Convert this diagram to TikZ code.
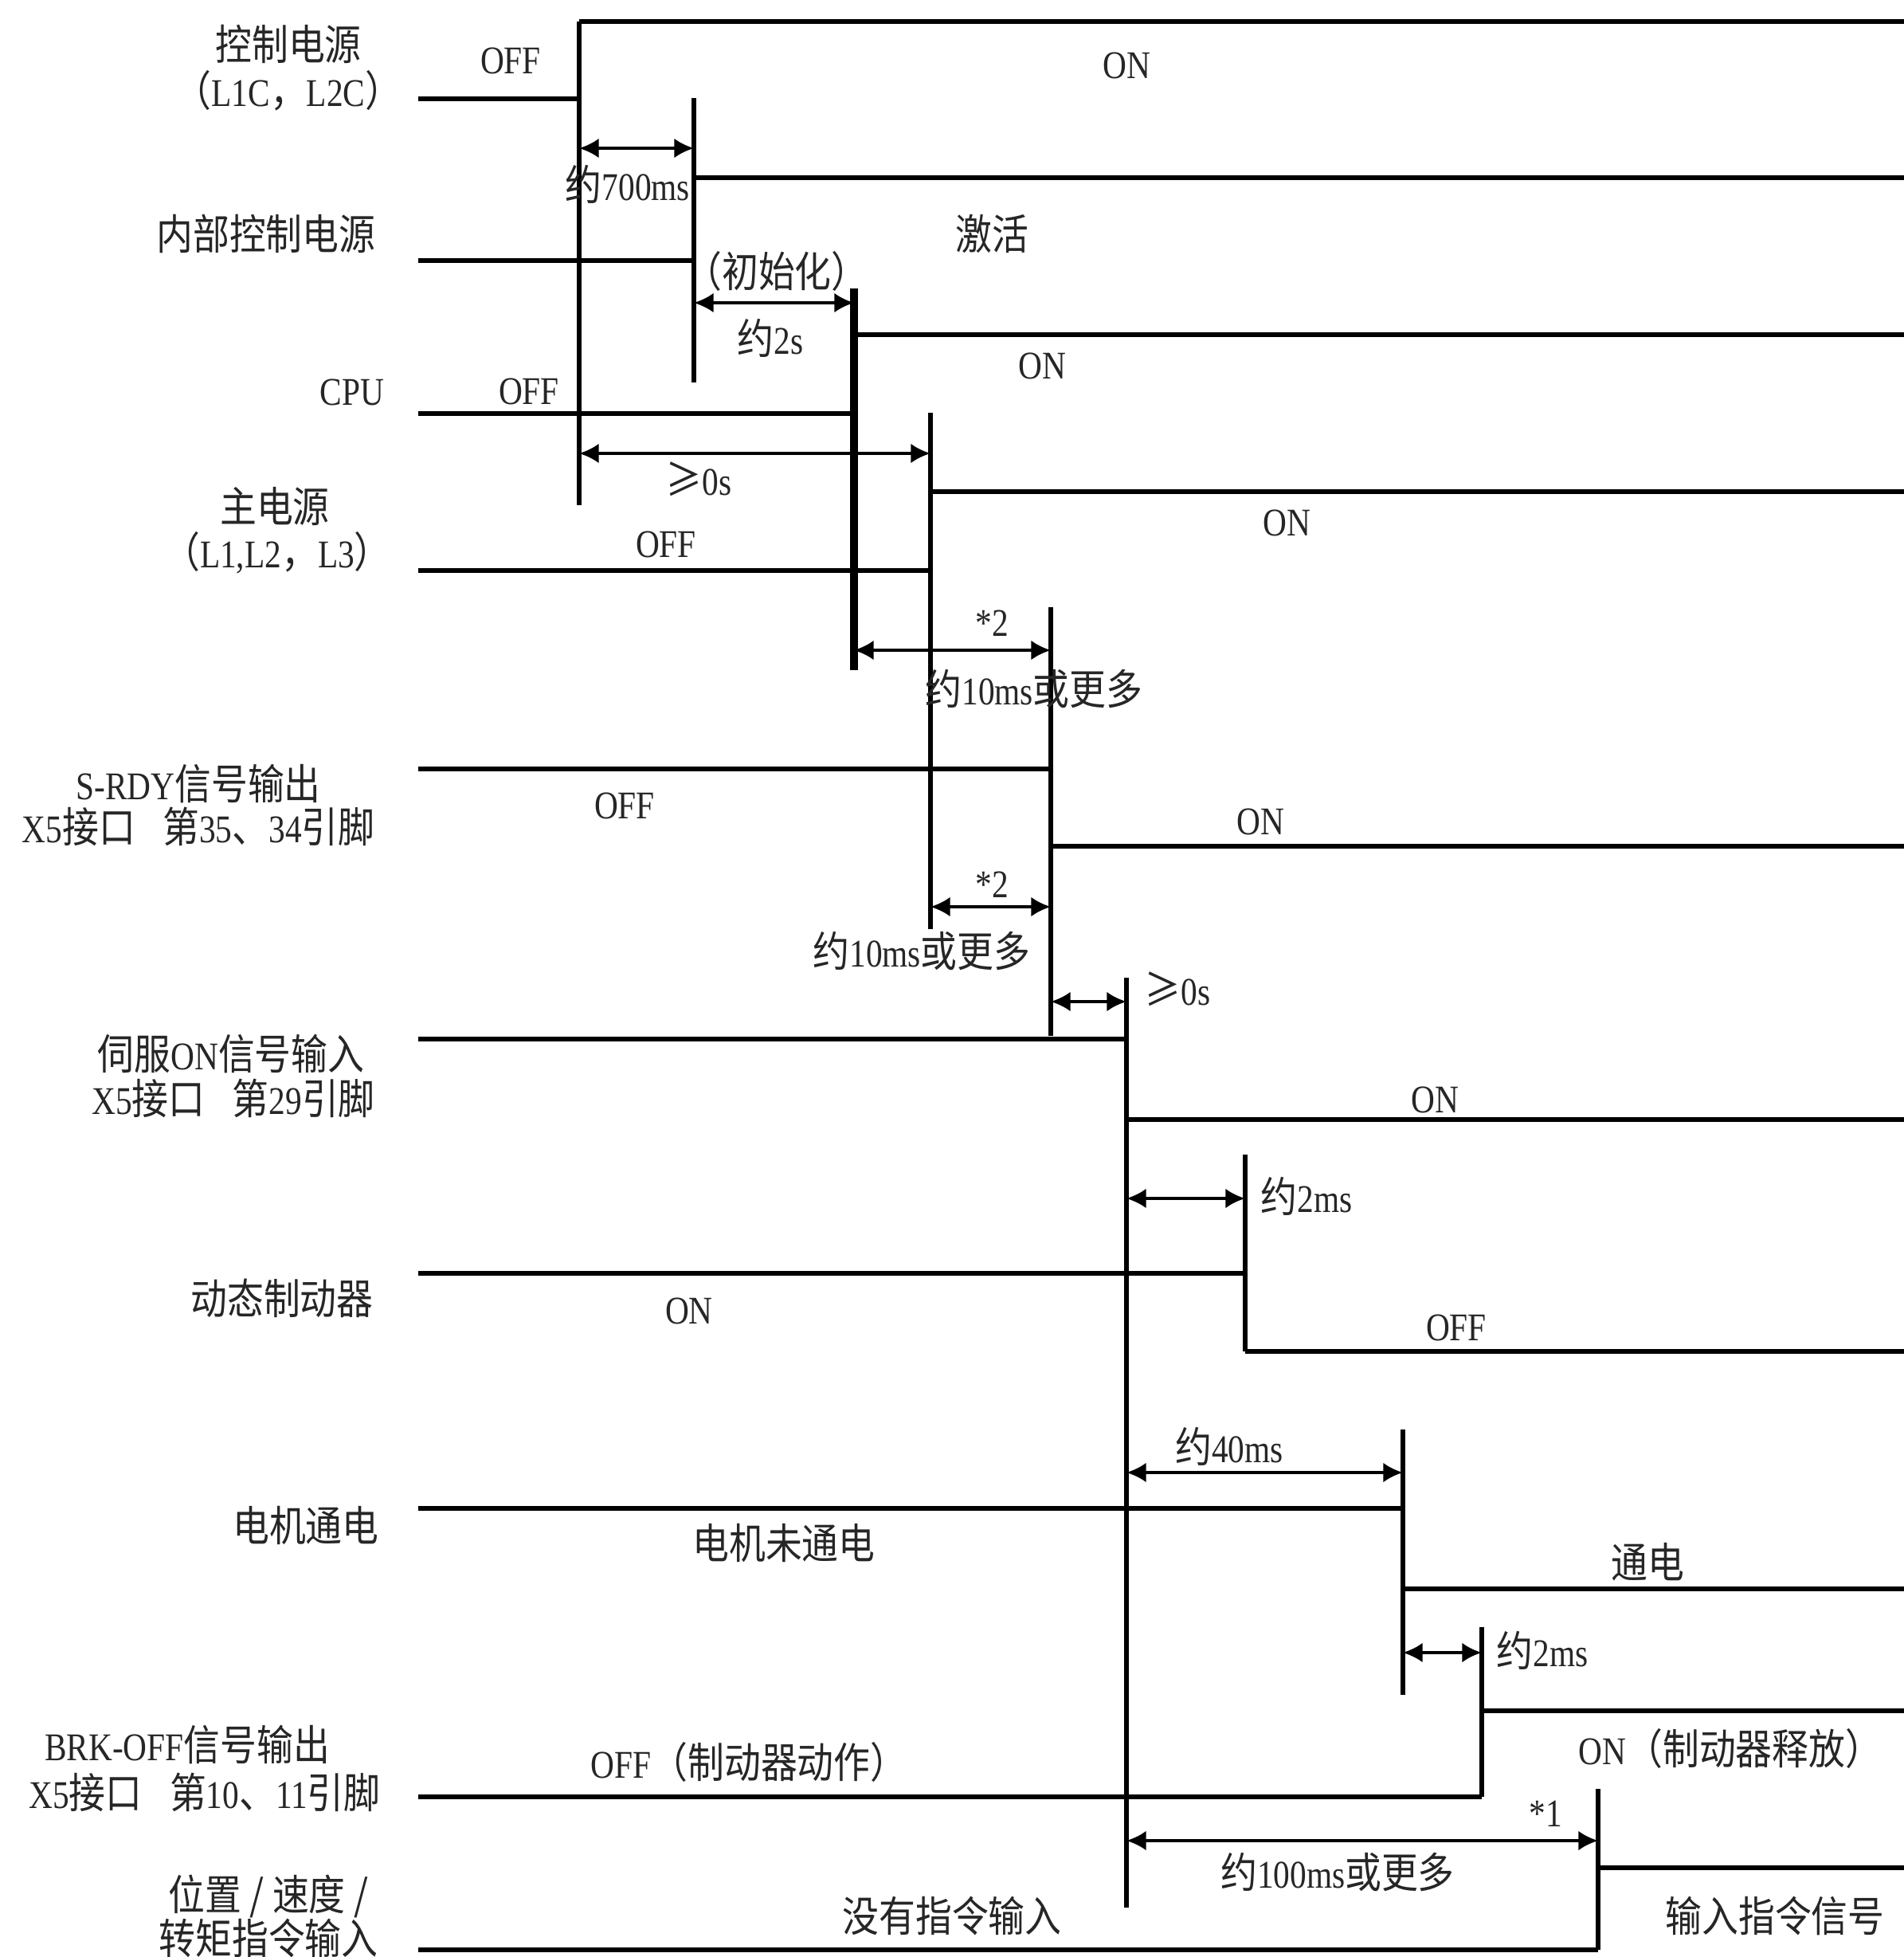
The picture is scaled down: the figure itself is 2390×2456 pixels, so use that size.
\documentclass[tikz,border=0pt]{standalone}
\usepackage{fontspec}
\setmainfont[FakeStretch=0.84]{Liberation Serif}
\newfontfamily\cjk[FakeStretch=0.87,Scale=1.07]{Noto Sans CJK SC}
\newcommand\zh[1]{{\cjk #1}}
\usetikzlibrary{arrows.meta}
\begin{document}
\begin{tikzpicture}[x=0.01cm,y=-0.01cm,
  lbl/.style={font=\fontsize{14}{16}\selectfont, inner sep=0pt, text=black!85},
  sig/.style={line width=1.6pt},
  vmark/.style={line width=1.9pt},
  vmarkthick/.style={line width=3pt},
  dim/.style={line width=1.1pt, {Latex[length=7pt,width=7pt]}-{Latex[length=7pt,width=7pt]}}]
\useasboundingbox (0,0) rectangle (2390,2456);
\fill[white] (0,0) rectangle (2390,2456);

% ---------------- signal names ----------------
\node[lbl] (l1a) at (362,55) {\zh{控制电源}};
\node[lbl] (l1b) at (362,114) {\zh{（}L1C\zh{，}L2C\zh{）}};
\node[lbl] (l2) at (334,293) {\zh{内部控制电源}};
\node[lbl] (l3) at (442,492) {CPU};
\node[lbl] (l4a) at (345,636) {\zh{主电源}};
\node[lbl] (l4b) at (348,694) {\zh{（}L1,L2\zh{，}L3\zh{）}};
\node[lbl] (l5a) at (249,983) {S-RDY\zh{信号输出}};
\node[lbl] (l5b) at (249,1037) {X5\zh{接口}\hspace{0.7em}\zh{第}35\zh{、}34\zh{引脚}};
\node[lbl] (l6a) at (290,1322) {\zh{伺服}ON\zh{信号输入}};
\node[lbl] (l6b) at (293,1378) {X5\zh{接口}\hspace{0.7em}\zh{第}29\zh{引脚}};
\node[lbl] (l7) at (354,1629) {\zh{动态制动器}};
\node[lbl] (l8) at (384,1914) {\zh{电机通电}};
\node[lbl] (l9a) at (235,2189) {BRK-OFF\zh{信号输出}};
\node[lbl] (l9b) at (257,2249) {X5\zh{接口}\hspace{0.7em}\zh{第}10\zh{、}11\zh{引脚}};
\node[lbl] (l10a) at (337,2380) {\zh{位置 / 速度 /}};
\node[lbl] (l10b) at (337,2432) {\zh{转矩指令输入}};

% ---------------- waveforms ----------------
\coordinate (r1a) at (525,124); \coordinate (r1b) at (727,124);
\coordinate (r1c) at (727,27);  \coordinate (r1d) at (2390,27);
\draw[sig] (r1a) -- (r1b); \draw[sig] (r1c) -- (r1d);
\coordinate (r2a) at (525,327); \coordinate (r2b) at (871,327);
\coordinate (r2c) at (871,223); \coordinate (r2d) at (2390,223);
\draw[sig] (r2a) -- (r2b); \draw[sig] (r2c) -- (r2d);
\coordinate (r3a) at (525,519); \coordinate (r3b) at (1072,519);
\coordinate (r3c) at (1072,420); \coordinate (r3d) at (2390,420);
\draw[sig] (r3a) -- (r3b); \draw[sig] (r3c) -- (r3d);
\coordinate (r4a) at (525,716); \coordinate (r4b) at (1168,716);
\coordinate (r4c) at (1168,617); \coordinate (r4d) at (2390,617);
\draw[sig] (r4a) -- (r4b); \draw[sig] (r4c) -- (r4d);
\coordinate (r5a) at (525,965); \coordinate (r5b) at (1319,965);
\coordinate (r5c) at (1319,1062); \coordinate (r5d) at (2390,1062);
\draw[sig] (r5a) -- (r5b); \draw[sig] (r5c) -- (r5d);
\coordinate (r6a) at (525,1304); \coordinate (r6b) at (1414,1304);
\coordinate (r6c) at (1414,1405); \coordinate (r6d) at (2390,1405);
\draw[sig] (r6a) -- (r6b); \draw[sig] (r6c) -- (r6d);
\coordinate (r7a) at (525,1598); \coordinate (r7b) at (1563,1598);
\coordinate (r7c) at (1563,1696); \coordinate (r7d) at (2390,1696);
\draw[sig] (r7a) -- (r7b); \draw[sig] (r7c) -- (r7d);
\coordinate (r8a) at (525,1893); \coordinate (r8b) at (1761,1893);
\coordinate (r8c) at (1761,1994); \coordinate (r8d) at (2390,1994);
\draw[sig] (r8a) -- (r8b); \draw[sig] (r8c) -- (r8d);
\coordinate (r9a) at (525,2255); \coordinate (r9b) at (1860,2255);
\coordinate (r9c) at (1860,2147); \coordinate (r9d) at (2390,2147);
\draw[sig] (r9a) -- (r9b); \draw[sig] (r9c) -- (r9d);
\coordinate (r10a) at (525,2447); \coordinate (r10b) at (2006,2447);
\coordinate (r10c) at (2006,2344); \coordinate (r10d) at (2390,2344);
\draw[sig] (r10a) -- (r10b); \draw[sig] (r10c) -- (r10d);

% ---------------- transition markers ----------------
\coordinate (v1t) at (727,27);   \coordinate (v1b) at (727,634);
\coordinate (v2t) at (871,123);  \coordinate (v2b) at (871,480);
\coordinate (v3t) at (1072,362); \coordinate (v3b) at (1072,841);
\coordinate (v4t) at (1168,518); \coordinate (v4b) at (1168,1166);
\coordinate (v5t) at (1319,762); \coordinate (v5b) at (1319,1300);
\coordinate (v6t) at (1414,1227); \coordinate (v6b) at (1414,2394);
\coordinate (v7t) at (1563,1449); \coordinate (v7b) at (1563,1696);
\coordinate (v8t) at (1761,1794); \coordinate (v8b) at (1761,2127);
\coordinate (v9t) at (1860,2042); \coordinate (v9b) at (1860,2255);
\coordinate (v10t) at (2006,2245); \coordinate (v10b) at (2006,2447);
\draw[vmark] (v1t) -- (v1b);
\draw[vmark] (v2t) -- (v2b);
\draw[vmarkthick] (v3t) -- (v3b);
\draw[vmark] (v4t) -- (v4b);
\draw[vmark] (v5t) -- (v5b);
\draw[vmark] (v6t) -- (v6b);
\draw[vmark] (v7t) -- (v7b);
\draw[vmark] (v8t) -- (v8b);
\draw[vmark] (v9t) -- (v9b);
\draw[vmark] (v10t) -- (v10b);

% ---------------- dimension arrows ----------------
\coordinate (d1s) at (727,186);  \coordinate (d1e) at (871,186);
\coordinate (d2s) at (871,380);  \coordinate (d2e) at (1072,380);
\coordinate (d3s) at (727,569);  \coordinate (d3e) at (1168,569);
\coordinate (d4s) at (1072,816); \coordinate (d4e) at (1319,816);
\coordinate (d5s) at (1168,1138); \coordinate (d5e) at (1319,1138);
\coordinate (d6s) at (1319,1257); \coordinate (d6e) at (1414,1257);
\coordinate (d7s) at (1414,1504); \coordinate (d7e) at (1563,1504);
\coordinate (d8s) at (1414,1848); \coordinate (d8e) at (1761,1848);
\coordinate (d9s) at (1761,2074); \coordinate (d9e) at (1860,2074);
\coordinate (d10s) at (1414,2310); \coordinate (d10e) at (2006,2310);
\draw[dim] (d1s) -- (d1e);
\draw[dim] (d2s) -- (d2e);
\draw[dim] (d3s) -- (d3e);
\draw[dim] (d4s) -- (d4e);
\draw[dim] (d5s) -- (d5e);
\draw[dim] (d6s) -- (d6e);
\draw[dim] (d7s) -- (d7e);
\draw[dim] (d8s) -- (d8e);
\draw[dim] (d9s) -- (d9e);
\draw[dim] (d10s) -- (d10e);

% ---------------- state / timing labels ----------------
\node[lbl] (s1off) at (641,76) {OFF};
\node[lbl] (s1on) at (1414,82) {ON};
\node[lbl] (t700) at (788,231) {\zh{约}700ms};
\node[lbl] (s2act) at (1245,293) {\zh{激活}};
\node[lbl] (s2init) at (975,340) {\zh{（初始化）}};
\node[lbl] (t2s) at (967,424) {\zh{约}2s};
\node[lbl] (s3off) at (664,491) {OFF};
\node[lbl] (s3on) at (1308,459) {ON};
\node[lbl] (t0a) at (877,601) {\zh{≥}0s};
\node[lbl] (s4off) at (836,683) {OFF};
\node[lbl] (s4on) at (1615,656) {ON};
\node[lbl] (star2a) at (1245,782) {*2};
\node[lbl] (t10a) at (1298,864) {\zh{约}10ms\zh{或更多}};
\node[lbl] (s5off) at (784,1011) {OFF};
\node[lbl] (s5on) at (1582,1031) {ON};
\node[lbl] (star2b) at (1245,1110) {*2};
\node[lbl] (t10b) at (1157,1193) {\zh{约}10ms\zh{或更多}};
\node[lbl] (t0b) at (1478,1241) {\zh{≥}0s};
\node[lbl] (s6on) at (1801,1380) {ON};
\node[lbl] (t2msa) at (1640,1501) {\zh{约}2ms};
\node[lbl] (s7on) at (865,1645) {ON};
\node[lbl] (s7off) at (1828,1666) {OFF};
\node[lbl] (t40) at (1543,1815) {\zh{约}40ms};
\node[lbl] (s8off) at (984,1936) {\zh{电机未通电}};
\node[lbl] (s8on) at (2068,1960) {\zh{通电}};
\node[lbl] (t2msb) at (1936,2071) {\zh{约}2ms};
\node[lbl] (s9off) at (940,2211) {OFF\zh{（制动器动作）}};
\node[lbl] (s9on) at (2172,2194) {ON\zh{（制动器释放）}};
\node[lbl] (star1) at (1940,2276) {*1};
\node[lbl] (t100) at (1679,2349) {\zh{约}100ms\zh{或更多}};
\node[lbl] (s10off) at (1195,2404) {\zh{没有指令输入}};
\node[lbl] (s10on) at (2228,2404) {\zh{输入指令信号}};
\end{tikzpicture}
\end{document}
